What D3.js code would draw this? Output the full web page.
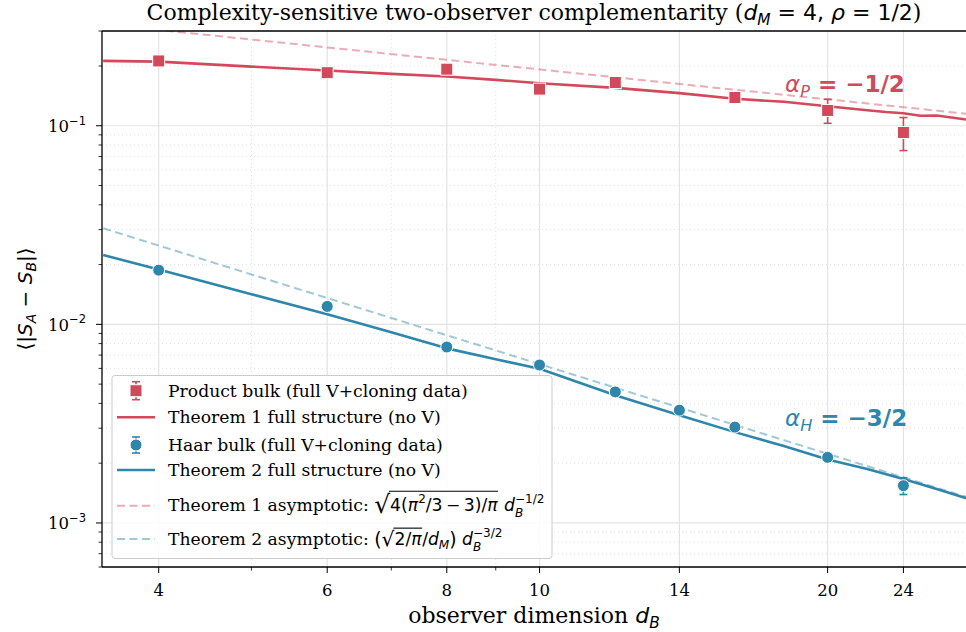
<!DOCTYPE html>
<html><head><meta charset="utf-8">
<script src="https://cdn.jsdelivr.net/npm/d3@7"></script>
<style>body{margin:0;background:#fff}svg text{white-space:pre}</style>
</head><body><svg id="c" width="966" height="632"></svg>
<script>
// ---------------- data ----------------
const productD   = [4, 6, 8, 10, 12, 16, 20, 24];
const productV   = [0.212, 0.185, 0.1927, 0.1529, 0.1651, 0.1388, 0.1194, 0.0925];
const productErr = [0.004, 0.004, 0.005, 0.005, 0.006, 0.007, 0.0165, 0.0175];

const haarD   = [4, 6, 8, 10, 12, 14, 16, 20, 24];
const haarV   = [0.01875, 0.01231, 0.00769, 0.00624, 0.004568, 0.003697, 0.003038, 0.002139, 0.00154];
const haarErr = [0.0003, 0.0002, 0.0001, 0.0001, 0.00008, 0.00007, 0.00006, 0.00005, 0.00015];

const th1D = [3.5, 4, 5, 6, 7, 8, 9, 10, 12, 14, 16, 18, 20, 22, 23, 24, 25, 26, 28];
const th1V = [0.2122, 0.2104, 0.1986, 0.1896, 0.1825, 0.1769, 0.1703, 0.1636, 0.1552, 0.1460,
              0.1367, 0.1320, 0.1253, 0.1198, 0.1172, 0.1156, 0.1123, 0.1126, 0.1072];

const th2D = [3.5, 4, 5, 6, 7, 8, 9, 10, 12, 14, 16, 18, 20, 22, 24, 26, 28];
const th2V = [0.02234, 0.0189, 0.01418, 0.01123, 0.00912, 0.00757, 0.00667, 0.00598, 0.004396,
              0.003489, 0.002866, 0.002437, 0.002085, 0.001868, 0.001664, 0.001483, 0.001328];

const asymD  = [3.5, 28];
const asym1V = [0.3247, 0.1148];
const asym2V = [0.03046, 0.001346];

const xTickVals  = [4, 6, 8, 10, 14, 20, 24];
const xTickLabels = ["4", "6", "8", "10", "14", "20", "24"];
const xMinorVals = [5, 7, 9];
const yTickVals  = [1e-3, 1e-2, 1e-1];
const yTickExp   = ["\u22123", "\u22122", "\u22121"];

// ---------------- setup ----------------
const RED = "#d1495b", BLUE = "#2e86ab";
const SERIF = "'DejaVu Serif', serif", SANS = "'DejaVu Sans', sans-serif";
const svg = d3.select("#c");
const L = 102, R = 966, T = 31, B = 567;
const x = d3.scaleLog().domain([3.49, 27.9]).range([L, R]);
const y = d3.scaleLog().domain([6.0e-4, 0.3]).range([B, T]);

svg.append("defs").append("clipPath").attr("id", "clip")
  .append("rect").attr("x", L).attr("y", T).attr("width", R - L).attr("height", B - T);

// rich text helper: one <text> element, tspans positioned explicitly
function rich(parent, px, py, segs, anchor, olY) {
  const g = parent.append("g");
  const text = g.append("text");
  let cx = 0, keepEnd = null;
  const items = [];
  segs.forEach(s => {
    const t = text.append("tspan").attr("x", cx).attr("y", s.dy || 0)
      .style("font-family", s.ff).style("font-size", s.size + "px")
      .style("font-style", s.it ? "italic" : "normal")
      .style("font-weight", s.bold ? "bold" : "normal")
      .attr("fill", s.fill || "#000").text(s.t);
    const w = t.node().getComputedTextLength();
    items.push({ x0: cx, x1: cx + w, s });
    if (s.keep) { keepEnd = cx + w; }
    else {
      cx = cx + w + (s.after || 0);
      if (keepEnd !== null) { cx = Math.max(cx, keepEnd); keepEnd = null; }
    }
  });
  const ol = items.filter(d => d.s.ol);
  if (ol.length) {
    const x0 = d3.min(ol, d => d.x0) - 1.2, x1 = d3.max(ol, d => d.x1) + 0.5;
    g.append("line").attr("x1", x0).attr("x2", x1)
      .attr("y1", olY).attr("y2", olY)
      .attr("stroke", "#000").attr("stroke-width", 1.1);
  }
  let off = 0;
  if (anchor === "middle") off = -cx / 2;
  else if (anchor === "end") off = -cx;
  g.attr("transform", `translate(${px + off},${py})`);
  return g;
}
function S(t, size, o = {}) { return Object.assign({ t, size, ff: o.serif ? SERIF : SANS }, o); }
function sub(t, size, o = {}) { return Object.assign({ t, size: size * 0.7, ff: SANS, dy: size * 0.22, it: true }, o); }
function sup(t, size, o = {}) { return Object.assign({ t, size: size * 0.7, ff: SANS, dy: -size * 0.42 }, o); }

// ---------------- grid ----------------
const grid = svg.append("g");
const yAll = y.ticks();
const yMinor = yAll.filter(v => Math.abs(Math.log10(v) - Math.round(Math.log10(v))) > 1e-6);
grid.selectAll(".ymin").data(yMinor).join("line")
  .attr("x1", L).attr("x2", R).attr("y1", d => y(d)).attr("y2", d => y(d))
  .attr("stroke", "#d8d8d8").attr("stroke-width", 0.8).attr("stroke-dasharray", "1,3");
grid.selectAll(".xmin").data(xMinorVals).join("line")
  .attr("y1", T).attr("y2", B).attr("x1", d => x(d)).attr("x2", d => x(d))
  .attr("stroke", "#d8d8d8").attr("stroke-width", 0.8).attr("stroke-dasharray", "1,3");
grid.selectAll(".ymaj").data(yTickVals).join("line")
  .attr("x1", L).attr("x2", R).attr("y1", d => y(d)).attr("y2", d => y(d))
  .attr("stroke", "#e3e3e3").attr("stroke-width", 1.2);
grid.selectAll(".xmaj").data(xTickVals).join("line")
  .attr("y1", T).attr("y2", B).attr("x1", d => x(d)).attr("x2", d => x(d))
  .attr("stroke", "#e3e3e3").attr("stroke-width", 1.2);

// ---------------- lines ----------------
const plot = svg.append("g").attr("clip-path", "url(#clip)");
const line = d3.line().x(d => x(d[0])).y(d => y(d[1]));
const zip = (a, b) => a.map((v, i) => [v, b[i]]);

plot.append("path").attr("d", line(zip(asymD, asym1V))).attr("fill", "none")
  .attr("stroke", RED).attr("stroke-opacity", 0.45).attr("stroke-width", 2).attr("stroke-dasharray", "8,4.5");
plot.append("path").attr("d", line(zip(asymD, asym2V))).attr("fill", "none")
  .attr("stroke", BLUE).attr("stroke-opacity", 0.45).attr("stroke-width", 2).attr("stroke-dasharray", "8,4.5");

plot.append("path").attr("d", line(zip(th1D, th1V))).attr("fill", "none")
  .attr("stroke", RED).attr("stroke-width", 2.6).attr("stroke-linejoin", "round");
plot.append("path").attr("d", line(zip(th2D, th2V))).attr("fill", "none")
  .attr("stroke", BLUE).attr("stroke-width", 2.6).attr("stroke-linejoin", "round");

function errbars(D, V, E, color) {
  const g = plot.append("g").attr("stroke", color).attr("stroke-width", 1.6);
  D.forEach((d, i) => {
    const cx = x(d), y0 = y(V[i] - E[i]), y1 = y(V[i] + E[i]);
    g.append("line").attr("x1", cx).attr("x2", cx).attr("y1", y0).attr("y2", y1);
    g.append("line").attr("x1", cx - 4).attr("x2", cx + 4).attr("y1", y0).attr("y2", y0);
    g.append("line").attr("x1", cx - 4).attr("x2", cx + 4).attr("y1", y1).attr("y2", y1);
  });
}
errbars(productD, productV, productErr, RED);
plot.append("g").selectAll("rect").data(zip(productD, productV)).join("rect")
  .attr("x", d => x(d[0]) - 6).attr("y", d => y(d[1]) - 6).attr("width", 12).attr("height", 12)
  .attr("fill", RED).attr("stroke", "#fff").attr("stroke-width", 1);
errbars(haarD, haarV, haarErr, BLUE);
plot.append("g").selectAll("circle").data(zip(haarD, haarV)).join("circle")
  .attr("cx", d => x(d[0])).attr("cy", d => y(d[1])).attr("r", 6)
  .attr("fill", BLUE).attr("stroke", "#fff").attr("stroke-width", 1);

// ---------------- slope annotations ----------------
const AS = 23;
rich(svg, 785, 92, [
  S("\u03b1", AS, { it: true, fill: RED }), sub("P", AS, { fill: RED }),
  S(" = \u22121/2", AS, { bold: true, fill: RED })
], "start");
rich(svg, 785, 426, [
  S("\u03b1", AS, { it: true, fill: BLUE }), sub("H", AS, { fill: BLUE }),
  S(" = \u22123/2", AS, { bold: true, fill: BLUE })
], "start");

// ---------------- legend ----------------
const LF = 17.2;
const lg = svg.append("g");
lg.append("rect").attr("x", 112).attr("y", 375.5).attr("width", 440).attr("height", 183).attr("rx", 3)
  .attr("fill", "#fff").attr("fill-opacity", 0.85).attr("stroke", "#cccccc").attr("stroke-width", 1);
const rowsY = [390.7, 417.3, 445, 470, 505.7, 539];
const hx0 = 117, hx1 = 155, hc = 136, tx = 168;
(function () {
  const cy = rowsY[0];
  const g = lg.append("g").attr("stroke", RED).attr("stroke-width", 1.6);
  g.append("line").attr("x1", hc).attr("x2", hc).attr("y1", cy - 9).attr("y2", cy + 9);
  g.append("line").attr("x1", hc - 4).attr("x2", hc + 4).attr("y1", cy - 9).attr("y2", cy - 9);
  g.append("line").attr("x1", hc - 4).attr("x2", hc + 4).attr("y1", cy + 9).attr("y2", cy + 9);
  lg.append("rect").attr("x", hc - 6).attr("y", cy - 6).attr("width", 12).attr("height", 12)
    .attr("fill", RED).attr("stroke", "#fff").attr("stroke-width", 1);
})();
lg.append("line").attr("x1", hx0).attr("x2", hx1).attr("y1", rowsY[1]).attr("y2", rowsY[1])
  .attr("stroke", RED).attr("stroke-width", 2.6);
(function () {
  const cy = rowsY[2];
  const g = lg.append("g").attr("stroke", BLUE).attr("stroke-width", 1.6);
  g.append("line").attr("x1", hc).attr("x2", hc).attr("y1", cy - 8).attr("y2", cy + 8);
  g.append("line").attr("x1", hc - 4).attr("x2", hc + 4).attr("y1", cy - 8).attr("y2", cy - 8);
  g.append("line").attr("x1", hc - 4).attr("x2", hc + 4).attr("y1", cy + 8).attr("y2", cy + 8);
  lg.append("circle").attr("cx", hc).attr("cy", cy).attr("r", 6)
    .attr("fill", BLUE).attr("stroke", "#fff").attr("stroke-width", 1);
})();
lg.append("line").attr("x1", hx0).attr("x2", hx1).attr("y1", rowsY[3]).attr("y2", rowsY[3])
  .attr("stroke", BLUE).attr("stroke-width", 2.6);
lg.append("line").attr("x1", hx0).attr("x2", hx1).attr("y1", rowsY[4]).attr("y2", rowsY[4])
  .attr("stroke", RED).attr("stroke-opacity", 0.45).attr("stroke-width", 2).attr("stroke-dasharray", "8,4.5");
lg.append("line").attr("x1", hx0).attr("x2", hx1).attr("y1", rowsY[5]).attr("y2", rowsY[5])
  .attr("stroke", BLUE).attr("stroke-opacity", 0.45).attr("stroke-width", 2).attr("stroke-dasharray", "8,4.5");

const legendTexts = ["Product bulk (full V+cloning data)", "Theorem 1 full structure (no V)",
  "Haar bulk (full V+cloning data)", "Theorem 2 full structure (no V)"];
legendTexts.forEach((t, i) => rich(lg, tx, rowsY[i] + 6, [S(t, LF, { serif: true })], "start"));
const RAD = (k, o = {}) => Object.assign(S("\u221a", LF * k), { dy: LF * 0.12 }, o);
const subB = o => sub("B", LF, Object.assign({ keep: true, dy: LF * 0.35 }, o));
const supE = t => Object.assign(sup(t, LF), { dy: -LF * 0.47 });
rich(lg, tx, rowsY[4] + 5, [
  S("Theorem 1 asymptotic: ", LF, { serif: true }),
  RAD(1.45),
  S("4(", LF, { ol: 1 }), S("\u03c0", LF, { it: true, ol: 1 }), sup("2", LF, { ol: 1 }),
  S("/3\u2009\u2212\u20093)/", LF, { ol: 1 }), S("\u03c0", LF, { it: true, ol: 1, after: 1 }),
  S(" ", LF), S("d", LF, { it: true }), subB(), supE("\u22121/2")
], "start", -LF * 1.13);
rich(lg, tx, rowsY[5] + 6, [
  S("Theorem 2 asymptotic: ", LF, { serif: true }),
  S("(", LF * 1.1, { dy: LF * 0.03 }), RAD(1.18, { dy: LF * 0.06 }),
  S("2/", LF, { ol: 1 }), S("\u03c0", LF, { it: true, ol: 1, after: 0.5 }),
  S("/", LF), S("d", LF, { it: true }), sub("M", LF), S(")", LF * 1.1, { dy: LF * 0.03 }),
  S(" ", LF), S("d", LF, { it: true }), subB(), supE("\u22123/2")
], "start", -LF * 0.98);

// ---------------- axes ----------------
const ax = svg.append("g");
ax.selectAll(".xt").data(xTickVals).join("line")
  .attr("x1", d => x(d)).attr("x2", d => x(d)).attr("y1", B).attr("y2", B + 6)
  .attr("stroke", "#000").attr("stroke-width", 1);
ax.selectAll(".xm").data(xMinorVals).join("line")
  .attr("x1", d => x(d)).attr("x2", d => x(d)).attr("y1", B).attr("y2", B + 3.5)
  .attr("stroke", "#000").attr("stroke-width", 0.8);
ax.selectAll(".yt").data(yTickVals).join("line")
  .attr("x1", L - 6).attr("x2", L).attr("y1", d => y(d)).attr("y2", d => y(d))
  .attr("stroke", "#000").attr("stroke-width", 1);
ax.selectAll(".ym").data(yMinor).join("line")
  .attr("x1", L - 3.5).attr("x2", L).attr("y1", d => y(d)).attr("y2", d => y(d))
  .attr("stroke", "#000").attr("stroke-width", 0.8);
ax.append("line").attr("x1", L).attr("x2", L).attr("y1", T).attr("y2", B).attr("stroke", "#000").attr("stroke-width", 1.3);
ax.append("line").attr("x1", L).attr("x2", R).attr("y1", B).attr("y2", B).attr("stroke", "#000").attr("stroke-width", 1.3);
ax.append("line").attr("x1", L).attr("x2", R).attr("y1", T).attr("y2", T).attr("stroke", "#000").attr("stroke-width", 1.3);

const TF = 16.5;
xTickVals.forEach((v, i) => rich(ax, x(v), B + 29, [S(xTickLabels[i], TF, { serif: true })], "middle"));
yTickVals.forEach((v, i) => rich(ax, L - 16, y(v) + 6.5, [
  S("10", TF, { serif: true }), Object.assign(sup(yTickExp[i], TF), { dy: -TF * 0.45 })
], "end"));

const LBL = 22;
rich(svg, (L + R) / 2, 623, [S("observer dimension ", LBL, { serif: true }), S("d", LBL, { it: true }), sub("B", LBL)], "middle");
const YL = 20;
const yl = svg.append("g").attr("transform", `translate(32,${(T + B) / 2}) rotate(-90)`);
rich(yl, 0, 0, [
  S("\u27e8|", YL), S("S", YL, { it: true }), sub("A", YL), S(" \u2212 ", YL),
  S("S", YL, { it: true }), sub("B", YL), S("|\u27e9", YL)
], "middle");
const TT = 22;
rich(svg, (L + R) / 2, 20, [
  S("Complexity-sensitive two-observer complementarity (", TT, { serif: true }),
  S("d", TT, { it: true }), sub("M", TT), S(" = 4, ", TT), S("\u03c1", TT, { it: true }),
  S(" = 1/2", TT), S(")", TT, { serif: true })
], "middle");
</script></body></html>
